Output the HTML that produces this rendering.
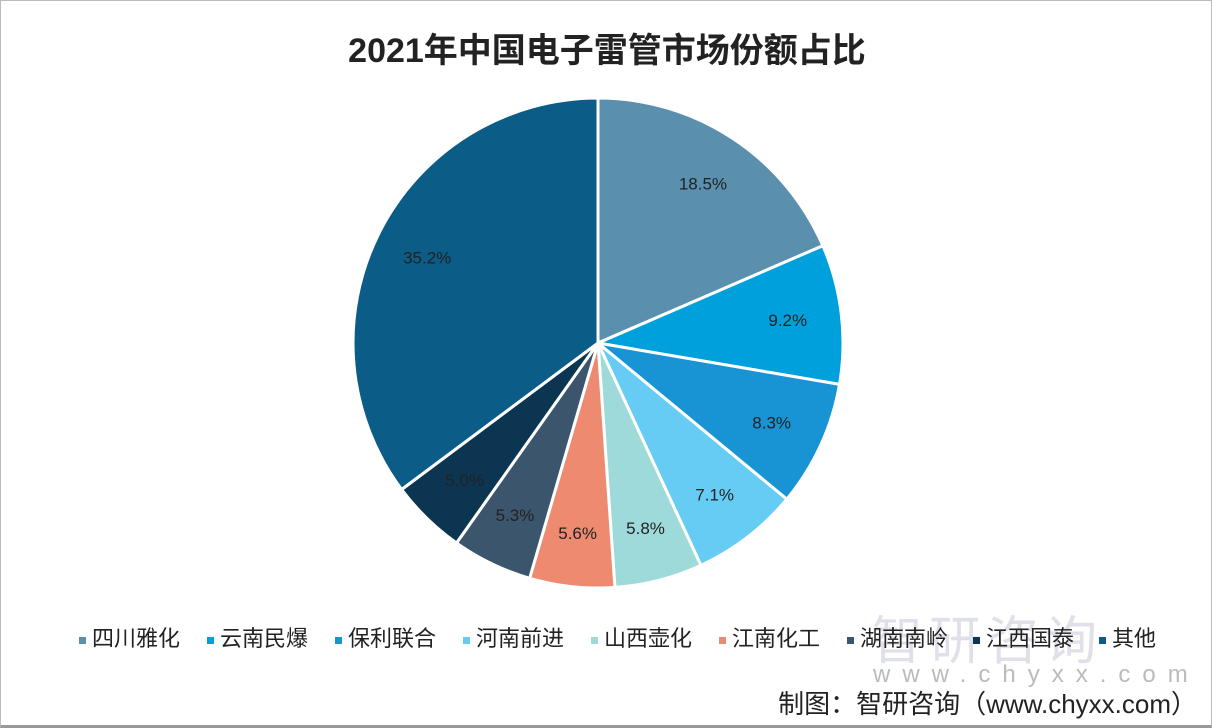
<!DOCTYPE html>
<html><head><meta charset="utf-8"><style>
body{margin:0;background:#fff;}
#wrap{position:relative;width:1210px;height:726px;border:1px solid #bbb;border-bottom:3px solid #999;box-sizing:border-box;width:1212px;height:728px;overflow:hidden;font-family:"Liberation Sans","Noto Sans CJK SC",sans-serif;}
#title{position:absolute;left:0;width:1212px;top:22px;text-align:center;font-size:34px;font-weight:bold;color:#222;}
.leg{position:absolute;top:620px;font-size:22px;color:#222;white-space:nowrap;}
.leg i{display:inline-block;width:7px;height:7px;margin-right:6px;vertical-align:middle;}
#wm{position:absolute;left:870px;top:598px;font-size:52px;color:#ccd;opacity:.6;letter-spacing:6px}
#wm2{position:absolute;left:872px;top:660px;font-size:24px;color:#bbb;letter-spacing:12px}
#src{position:absolute;right:14px;top:683px;font-size:26px;color:#222;}
</style></head><body>
<div id="wrap">
<div id="title">2021年中国电子雷管市场份额占比</div>
<svg id="pie" width="1212" height="728" style="position:absolute;left:0;top:0"></svg>
<div id="wm">智研咨询</div>
<div id="wm2">www.chyxx.com</div>
<div id="src">制图：智研咨询（www.chyxx.com）</div>
</div>
<script>
const categories=["四川雅化","云南民爆","保利联合","河南前进","山西壶化","江南化工","湖南南岭","江西国泰","其他"];
const values=[18.5,9.2,8.3,7.1,5.8,5.6,5.3,5.0,35.2];
const colors=["#5a8fae","#00a0dc","#1893d3","#66ccf4","#9fdada","#ee8a70","#3b566c","#0b3550","#0b5c86"];
const legendX=[78,206,334,462,590,718,846,972,1098];
const cx=597,cy=342,r=245;
const svg=document.getElementById('pie');
const NS="http://www.w3.org/2000/svg";
const total=values.reduce((a,b)=>a+b,0);
let a=0;
values.forEach((v,i)=>{
  const a0=a/total*2*Math.PI,a1=(a+v)/total*2*Math.PI;a+=v;
  const p=(t,rr)=>[cx+rr*Math.sin(t),cy-rr*Math.cos(t)];
  const [x0,y0]=p(a0,r),[x1,y1]=p(a1,r);
  const path=document.createElementNS(NS,'path');
  path.setAttribute('d',`M${cx},${cy}L${x0},${y0}A${r},${r} 0 ${a1-a0>Math.PI?1:0} 1 ${x1},${y1}Z`);
  path.setAttribute('fill',colors[i]);path.setAttribute('stroke','#fff');path.setAttribute('stroke-width','3');
  
  
  svg.appendChild(path);
  const [lx,ly]=p((a0+a1)/2,r*0.78);
  const t=document.createElementNS(NS,'text');
  t.setAttribute('x',lx);t.setAttribute('y',ly+6);t.setAttribute('text-anchor','middle');
  t.setAttribute('font-size','17');t.setAttribute('fill','#222');
  t.setAttribute('font-family','Liberation Sans, sans-serif');
  t.textContent=v.toFixed(1)+'%';
  
  
  svg.appendChild(t);
});
const wrap=document.getElementById('wrap');
categories.forEach((c,i)=>{
  const d=document.createElement('div');d.className='leg';d.style.left=legendX[i]+'px';
  d.innerHTML=`<i style="background:${colors[i]}"></i>${c}`;
  
  
  wrap.appendChild(d);
});
</script>
</body></html>
